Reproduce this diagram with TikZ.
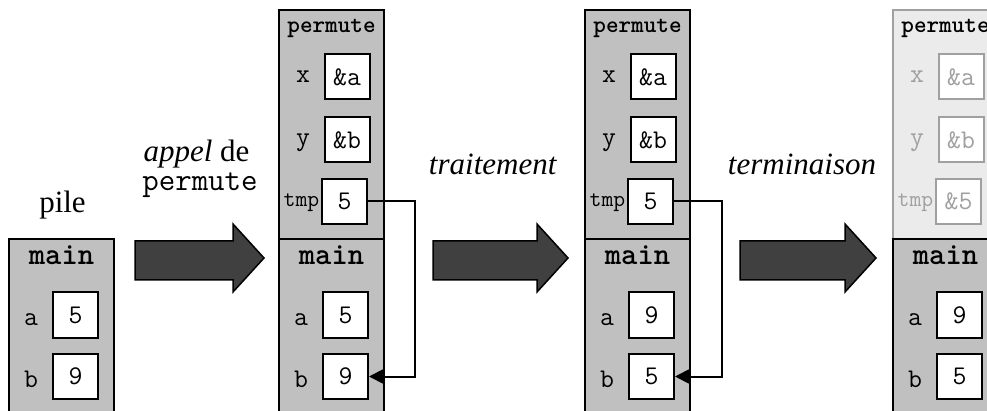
\documentclass[tikz,border=0pt]{standalone}
\usepackage{fontspec}
\setmainfont{Liberation Serif}
\usetikzlibrary{arrows.meta}
\definecolor{stackgray}{HTML}{C0C0C0}
\definecolor{fadefill}{HTML}{EBEBEB}
\definecolor{fadeline}{HTML}{A0A0A0}
\definecolor{arrowfill}{HTML}{404040}
\newcommand\fs[1]{\fontsize{#1}{#1}\selectfont}
\newcommand\bigarr[2]{\draw[bigarrow] (#1,241) -- (#2-31,241) -- (#2-31,224) -- (#2,258) -- (#2-31,292) -- (#2-31,280) -- (#1,280) -- cycle;}
\begin{document}
\begin{tikzpicture}[x=1pt,y=-1pt,
 frame/.style={draw=black, line width=2pt, fill=stackgray, anchor=north west, minimum width=105pt, inner sep=0pt, outer sep=0pt},
 fadeframe/.style={frame, draw=fadeline, fill=fadefill},
 valbox/.style={draw=black, line width=2pt, fill=white, minimum width=45pt, minimum height=45pt, inner sep=0pt, font=\ttfamily\fs{27}},
 fadeval/.style={valbox, draw=fadeline, text=fadeline},
 varlbl/.style={anchor=base, inner sep=0pt, font=\ttfamily\fs{27}},
 tmplbl/.style={anchor=base, inner sep=0pt, font=\ttfamily\fs{23}},
 maintitle/.style={anchor=base, inner sep=0pt, font=\ttfamily\bfseries\fs{31}},
 permtitle/.style={anchor=base, inner sep=0pt, font=\ttfamily\bfseries\fs{24}},
 caption/.style={anchor=base, inner sep=0pt, font=\fs{31}},
 monocap/.style={anchor=base, inner sep=0pt, font=\ttfamily\fs{32}},
 bigarrow/.style={draw=black, line width=1.5pt, fill=arrowfill, line join=miter},
 link/.style={draw=black, line width=2pt, -{Triangle[length=15pt,width=15pt]}}
]
\useasboundingbox (0,0) rectangle (987,411);
\clip (0,0) rectangle (987,411);

% captions
\node[caption] (cpile) at (62.5,213) {pile};
\node[caption] (cappel) at (196.5,162) {\textit{appel} de};
\node[monocap] (cperm) at (200,191) {permute};
\node[caption] (ctrait) at (493,175) {\textit{traitement}};
\node[caption] (cterm) at (802,175) {\textit{terminaison}};

% big arrows
\bigarr{135}{264}
\bigarr{433}{568}
\bigarr{740}{876}

% stack 1
\node[frame, minimum height=200pt] (main1) at (9,239) {};
\node[maintitle] (mt1) at (61.5,265) {main};
\node[valbox] (a1) at (75.5,315) {5};
\node[varlbl] (la1) at (31,325) {a};
\node[valbox] (b1) at (75.5,376.5) {9};
\node[varlbl] (lb1) at (31,387) {b};

% stack 2
\node[frame, minimum height=229pt] (perm2) at (279,10) {};
\node[permtitle] (pt2) at (331.5,33) {permute};
\node[valbox] (x2) at (347,77) {\&a};
\node[varlbl] (lx2) at (303,83) {x};
\node[valbox] (y2) at (347,140) {\&b};
\node[varlbl] (ly2) at (303,146) {y};
\node[valbox] (tmp2) at (344.5,201.5) {5};
\node[tmplbl] (ltmp2) at (301.5,207) {tmp};
\node[frame, minimum height=200pt] (main2) at (279,239) {};
\node[maintitle] (mt2) at (331.5,265) {main};
\node[valbox] (a2) at (345.5,315) {5};
\node[varlbl] (la2) at (301,325) {a};
\node[valbox] (b2) at (345.5,376.5) {9};
\node[varlbl] (lb2) at (301,387) {b};
\draw[link] (tmp2.east) -- ([xshift=47pt]tmp2.east) |- (b2.east);

% stack 3
\node[frame, minimum height=229pt] (perm3) at (585,10) {};
\node[permtitle] (pt3) at (637.5,33) {permute};
\node[valbox] (x3) at (653,77) {\&a};
\node[varlbl] (lx3) at (609,83) {x};
\node[valbox] (y3) at (653,140) {\&b};
\node[varlbl] (ly3) at (609,146) {y};
\node[valbox] (tmp3) at (650.5,201.5) {5};
\node[tmplbl] (ltmp3) at (607.5,207) {tmp};
\node[frame, minimum height=200pt] (main3) at (585,239) {};
\node[maintitle] (mt3) at (637.5,265) {main};
\node[valbox] (a3) at (651.5,315) {9};
\node[varlbl] (la3) at (607,325) {a};
\node[valbox] (b3) at (651.5,376.5) {5};
\node[varlbl] (lb3) at (607,387) {b};
\draw[link] (tmp3.east) -- ([xshift=48pt]tmp3.east) |- (b3.east);

% stack 4
\node[fadeframe, minimum height=229pt] (perm4) at (893,10) {};
\node[permtitle] (pt4) at (945.5,33) {permute};
\node[fadeval] (x4) at (961,77) {\&a};
\node[varlbl, text=fadeline] (lx4) at (917,83) {x};
\node[fadeval] (y4) at (961,140) {\&b};
\node[varlbl, text=fadeline] (ly4) at (917,146) {y};
\node[fadeval] (tmp4) at (958.5,201.5) {\&5};
\node[tmplbl, text=fadeline] (ltmp4) at (915.5,207) {tmp};
\node[frame, minimum height=200pt] (main4) at (893,239) {};
\node[maintitle] (mt4) at (945.5,265) {main};
\node[valbox] (a4) at (959.5,315) {9};
\node[varlbl] (la4) at (915,325) {a};
\node[valbox] (b4) at (959.5,376.5) {5};
\node[varlbl] (lb4) at (915,387) {b};
\end{tikzpicture}
\end{document}
